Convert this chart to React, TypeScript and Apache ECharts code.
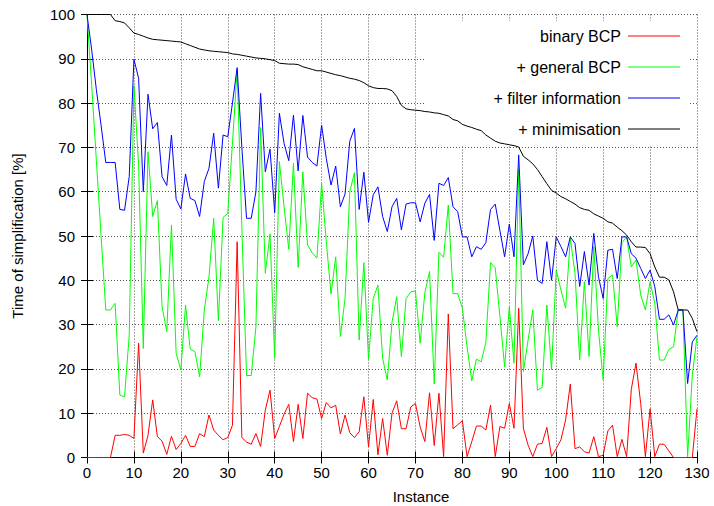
import React, { useEffect, useRef } from "react";
import * as echarts from "echarts";

// Instance numbers 0..130
const instances: number[] = Array.from({ length: 131 }, (_, i) => i);

// Time of simplification [%] per instance
const binaryBCP: number[] = [
  0, 0, 0, 0, 0, 0, 5, 5, 5.2, 5,
  4.3, 25.8, 1, 5, 13, 4.7, 3.7, 0.7, 4.8, 1.8,
  3.2, 5, 2.5, 2.5, 5.4, 4.7, 9.6, 6.2, 5, 4,
  4.5, 7.3, 48.7, 4.5, 3.5, 3, 5.4, 2.5, 10.7, 15.2,
  4.3, 7, 9.8, 12, 3.6, 12, 4.3, 14.5, 13.5, 13.2,
  8.8, 12.4, 11.2, 11.8, 5.3, 9.6, 5.6, 4.5, 5.8, 13.7,
  2.4, 13.1, 0.6, 8.8, 0.5, 10, 12.8, 6.5, 6.5, 11.4,
  12.2, 6.9, 3.6, 14.6, 2.7, 14.5, 0.2, 32.4, 6.5, 7.4,
  8.3, 0.2, 3.6, 7.1, 7.1, 6.2, 11.8, 0.2, 7, 6.6,
  12.2, 6.6, 33.7, 6.6, 2.8, 0.2, 3, 3.2, 6.8, 0.2,
  2, 4, 8.5, 16.6, 2, 2.4, 1.3, 1, 4.7, 0.2,
  0.5, 6, 7.3, 0.2, 4.1, 0.2, 15.4, 21.3, 12.2, 0.2,
  11, 0.2, 3, 3, 1.5, 0, 0, 0, 0, 0,
  11,
];

const generalBCP: number[] = [
  100, 84, 67, 50, 33.3, 33.3, 34.8, 14.1, 13.7, 27.6,
  83.9, 66, 24.6, 69, 54.4, 58, 34, 28.4, 52.5, 23.5,
  19.8, 34.4, 24.5, 23.9, 18.2, 33.3, 40.8, 54, 30.9, 54.2,
  55.1, 71, 87.6, 52, 18.5, 18.5, 29.5, 74.5, 41.6, 50.5,
  22.4, 66.8, 56.6, 47, 66.4, 42.9, 64.5, 48, 46.2, 45,
  61.9, 48.7, 36.9, 45.3, 27.3, 35.9, 60, 64.3, 26.5, 44,
  22.2, 35.9, 38.9, 22.4, 17.5, 30.5, 36.3, 22.8, 35.9, 37.4,
  37.6, 25.8, 37.2, 42, 16.6, 46.3, 45.2, 57, 37, 37,
  33.7, 25, 17.3, 22.2, 21.6, 26, 44, 42.8, 31.8, 20.5,
  34, 21.3, 65, 19.4, 26.5, 33.3, 15.2, 15.8, 34.4, 19.8,
  42.3, 37.8, 33.7, 49.5, 41.6, 22, 39.7, 22.8, 47.6, 28.8,
  17.5, 40.4, 41.2, 29.5, 48.5, 49.8, 43, 44.6, 36.7, 33.3,
  39.7, 34.8, 22, 22, 24.4, 25, 33.3, 33.3, 0.2, 18.6,
  27.3,
];

const filterInformation: number[] = [
  100, 92, 83, 75, 66.6, 66.6, 66.6, 56, 55.8, 63.4,
  89.9, 85.6, 60, 82, 74.2, 75.6, 63.4, 61.4, 72.8, 58.3,
  56.1, 64, 58.5, 58, 54.4, 62.3, 65.3, 73.2, 60.8, 72.8,
  72.4, 80, 88, 70, 54, 54, 60, 82.2, 64.5, 69.6,
  55.3, 77.7, 70.9, 67, 77.3, 64.7, 77.2, 67.8, 66.6, 65.8,
  75, 67.5, 61.5, 65.8, 56.6, 59.5, 71.4, 74.3, 56, 64.4,
  53.1, 59.3, 61.1, 54.4, 51, 56.6, 58.5, 51.4, 57.2, 57.5,
  57.5, 53.2, 57.4, 59.4, 49, 61.9, 61.4, 63.2, 56.6, 55.5,
  49.8, 49.8, 45.3, 47.6, 47, 48.5, 56, 57.2, 51.2, 45.3,
  52.7, 45.3, 68.3, 43.5, 46, 50, 40, 39.3, 48.7, 40,
  49.8, 47.6, 45.3, 49.8, 48.3, 38.6, 46.5, 38.9, 50.6, 40.8,
  35.9, 46.8, 47, 40.4, 49.8, 49.8, 46, 45, 42.7, 40.4,
  42.3, 38.6, 31.2, 31.2, 32.2, 29.9, 33.3, 33.3, 16.7, 26.1,
  27.6,
];

const minimisation: number[] = [
  100, 100, 100, 100, 100, 100, 98.6, 98.4, 98.1, 97,
  95.8, 95.5, 95.1, 94.7, 94.4, 94.3, 94.2, 94.1, 94.0, 93.9,
  93.8, 93.4, 93, 92.6, 92.2, 92, 91.8, 91.7, 91.6, 91.5,
  91.4, 91.1, 91, 90.8, 90.6, 90.4, 90.2, 90.1, 90, 89.8,
  89.6, 89, 88.9, 88.8, 88.8, 88.7, 88.2, 87.9, 87.6, 87.3,
  87.3, 87, 86.7, 86.4, 86.2, 85.9, 85.6, 85.4, 85.1, 84.6,
  83.9, 83.5, 83.3, 83.3, 83.2, 82.8, 81.5, 79.5, 78.7, 78.5,
  78.4, 78.3, 78.1, 78, 77.8, 77.7, 77.4, 77.1, 76.3, 76,
  75.2, 74.8, 74.5, 74.1, 73.8, 72.8, 72.1, 71.4, 71, 70.8,
  70.6, 70.4, 70.1, 68, 67.2, 66.3, 65, 63.4, 61.8, 60.3,
  59.7, 58.9, 58.4, 57.8, 57.2, 56.4, 56, 55.8, 55, 54.5,
  54, 53.2, 52.9, 52, 51.2, 50.2, 48.7, 47.5, 47.5, 47.4,
  46, 43, 40.7, 40.7, 40.1, 37.4, 33.3, 33.3, 33.3, 31.4,
  28.4,
];

const seriesNames = ["binary BCP", "+ general BCP", "+ filter information", "+ minimisation"];
const seriesColors = ["#ff0000", "#00ff00", "#0000ff", "#000000"];
const seriesValues = [binaryBCP, generalBCP, filterInformation, minimisation];

const FONT = "'Liberation Sans', Arial, Helvetica, sans-serif";

export default function App() {
  const ref = useRef<HTMLDivElement>(null);

  useEffect(() => {
    if (!ref.current) return;
    const chart = echarts.init(ref.current, undefined, { renderer: "svg" });

    const gridLine = { show: true, lineStyle: { color: "#555", width: 1, type: [1, 2] as number[] } };
    const tick = { show: true, inside: true, length: 6, lineStyle: { color: "#000", width: 1 } };
    const axisLine = { show: true, lineStyle: { color: "#000", width: 1 } };

    chart.setOption({
      animation: false,
      backgroundColor: "#fff",
      grid: { left: 87, right: 17, top: 14.5, bottom: 48.5, containLabel: false },
      legend: {
        orient: "vertical",
        right: 29,
        top: 23,
        align: "right",
        icon: "rect",
        itemWidth: 52,
        itemHeight: 1,
        itemGap: 15,
        selectedMode: false,
        textStyle: { fontSize: 16, lineHeight: 14, fontFamily: FONT, color: "#000", padding: [0, 2, 0, 0] },
        data: seriesNames,
      },
      // opaque key background, hides the grid but not the curves
      graphic: [
        {
          type: "rect",
          z: 1,
          shape: { x: 425, y: 21, width: 264, height: 124 },
          style: { fill: "#fff" },
        },
        {
          type: "text",
          z: 5,
          x: 421,
          y: 496,
          style: {
            text: "Instance",
            fontSize: 15,
            fontFamily: FONT,
            fill: "#000",
            align: "center",
            verticalAlign: "middle",
          },
        },
      ],
      xAxis: [
        {
          type: "value",
          min: 0,
          max: 130,
          interval: 10,
          axisLine,
          axisTick: tick,
          axisLabel: { fontSize: 15, fontFamily: FONT, color: "#000", margin: 7 },
          splitLine: gridLine,
        },
        {
          type: "value",
          position: "top",
          min: 0,
          max: 130,
          interval: 10,
          axisLine,
          axisTick: tick,
          axisLabel: { show: false },
          splitLine: { show: false },
        },
      ],
      yAxis: [
        {
          type: "value",
          min: 0,
          max: 100,
          interval: 10,
          name: "Time of simplification [%]",
          nameLocation: "middle",
          nameGap: 62,
          nameTextStyle: { fontSize: 15, fontFamily: FONT, color: "#000" },
          axisLine,
          axisTick: tick,
          axisLabel: { fontSize: 15, fontFamily: FONT, color: "#000", margin: 12 },
          splitLine: gridLine,
        },
        {
          type: "value",
          position: "right",
          min: 0,
          max: 100,
          interval: 10,
          axisLine,
          axisTick: tick,
          axisLabel: { show: false },
          splitLine: { show: false },
        },
      ],
      series: seriesValues.map((vals, s) => ({
        name: seriesNames[s],
        type: "line",
        xAxisIndex: 0,
        yAxisIndex: 0,
        symbol: "none",
        showSymbol: false,
        clip: false,
        z: 2 + s,
        lineStyle: { color: seriesColors[s], width: 1 },
        itemStyle: { color: seriesColors[s] },
        data: vals.map((v, i) => [instances[i], v]),
      })),
    });

    return () => chart.dispose();
  }, []);

  return (
    <div
      ref={ref}
      style={{ position: "fixed", left: 0, top: 0, width: 714, height: 506, background: "#fff" }}
    />
  );
}
